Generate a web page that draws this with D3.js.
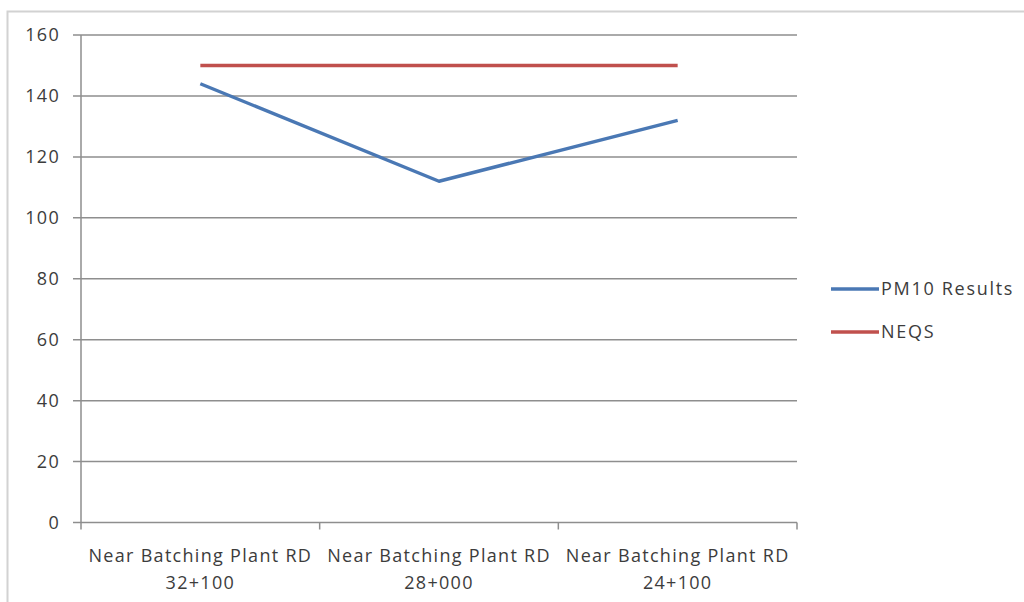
<!DOCTYPE html>
<html>
<head>
<meta charset="utf-8">
<script src="https://cdn.jsdelivr.net/npm/d3@7"></script>
<style>
  body { margin: 0; background: #fff; }
  svg text { font-family: "Open Sans", sans-serif; fill: #3c3c3c; letter-spacing: 1.3px; }
</style>
</head>
<body>
<svg id="chart" width="1024" height="602"></svg>
<script>
// categories along the x axis (two lines each)
const categories = ["32+100", "28+000", "24+100"];
const categoryPrefix = "Near Batching Plant RD";

// series values
const pm10Values = [144, 112, 132];
const neqsValues = [150, 150, 150];

const yTicks = [0, 20, 40, 60, 80, 100, 120, 140, 160];

const series = [
  { name: "PM10 Results", values: pm10Values, color: "#4a78b4" },
  { name: "NEQS", values: neqsValues, color: "#c0504d" }
];

const svg = d3.select("#chart");

// outer chart frame
svg.append("rect")
  .attr("x", 7.5).attr("y", 11.5)
  .attr("width", 1030).attr("height", 600)
  .attr("fill", "none")
  .attr("stroke", "#d2d2d2")
  .attr("stroke-width", 2);

const plot = { left: 81, right: 797, top: 35, bottom: 522.5 };

const x = d3.scaleBand()
  .domain(categories)
  .range([plot.left, plot.right]);

const y = d3.scaleLinear()
  .domain([0, 160])
  .range([plot.bottom, plot.top]);

// gridlines
svg.append("g")
  .selectAll("line")
  .data(yTicks)
  .join("line")
  .attr("x1", plot.left - 8)
  .attr("x2", plot.right)
  .attr("y1", d => y(d))
  .attr("y2", d => y(d))
  .attr("stroke", "#8e8e8e")
  .attr("stroke-width", 1.5);

// y axis line
svg.append("line")
  .attr("x1", plot.left).attr("x2", plot.left)
  .attr("y1", plot.top).attr("y2", plot.bottom)
  .attr("stroke", "#8e8e8e")
  .attr("stroke-width", 1.5);

// y tick labels
svg.append("g")
  .selectAll("text")
  .data(yTicks)
  .join("text")
  .attr("x", 60)
  .attr("y", d => y(d))
  .attr("dy", "0.35em")
  .attr("text-anchor", "end")
  .attr("font-size", 18)
  .text(d => d);

// x axis ticks at band boundaries
const boundaries = categories.map(c => x(c)).concat([plot.right]);
svg.append("g")
  .selectAll("line")
  .data(boundaries)
  .join("line")
  .attr("x1", d => d).attr("x2", d => d)
  .attr("y1", plot.bottom).attr("y2", plot.bottom + 7)
  .attr("stroke", "#8e8e8e")
  .attr("stroke-width", 1.5);

// x labels
const xl = svg.append("g")
  .selectAll("text")
  .data(categories)
  .join("text")
  .attr("x", d => x(d) + x.bandwidth() / 2)
  .attr("y", 562)
  .attr("text-anchor", "middle")
  .attr("font-size", 18);
xl.append("tspan").text(categoryPrefix);
xl.append("tspan")
  .attr("x", d => x(d) + x.bandwidth() / 2)
  .attr("dy", 27)
  .text(d => d);

// lines
const line = d3.line()
  .x((d, i) => x(categories[i]) + x.bandwidth() / 2)
  .y(d => y(d));

svg.append("g")
  .selectAll("path")
  .data(series)
  .join("path")
  .attr("d", d => line(d.values))
  .attr("fill", "none")
  .attr("stroke", d => d.color)
  .attr("stroke-width", 3.4)
  .attr("stroke-linejoin", "round");

// legend
const legend = svg.append("g")
  .selectAll("g")
  .data(series)
  .join("g")
  .attr("transform", (d, i) => `translate(831, ${289 + i * 43})`);
legend.append("line")
  .attr("x1", 0).attr("x2", 48)
  .attr("stroke", d => d.color)
  .attr("stroke-width", 3.4);
legend.append("text")
  .attr("x", 50)
  .attr("dy", "0.35em")
  .attr("font-size", 18)
  .style("letter-spacing", "1.7px")
  .text(d => d.name);
</script>
</body>
</html>
